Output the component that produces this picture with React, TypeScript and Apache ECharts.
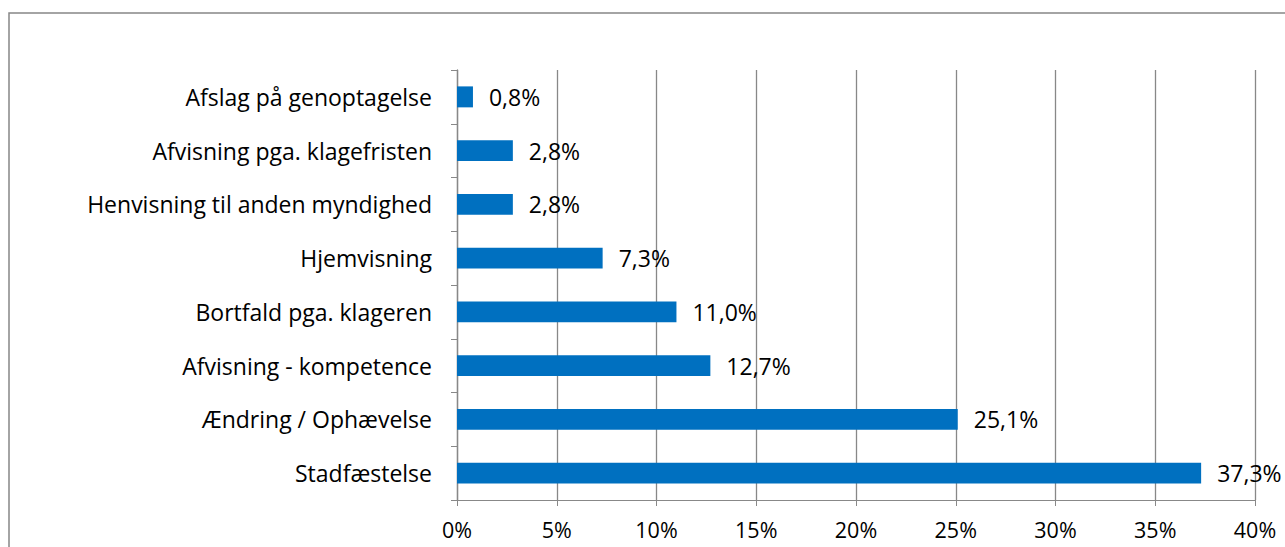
import React, { useEffect, useRef } from "react";
import * as echarts from "echarts";

const categories = [
  "Stadfæstelse",
  "Ændring / Ophævelse",
  "Afvisning - kompetence",
  "Bortfald pga. klageren",
  "Hjemvisning",
  "Henvisning til anden myndighed",
  "Afvisning pga. klagefristen",
  "Afslag på genoptagelse",
];
const values = [37.3, 25.1, 12.7, 11.0, 7.3, 2.8, 2.8, 0.8];
const xTicks = { min: 0, max: 40, interval: 5 };

const FONT = "'Open Sans', sans-serif";

export default function App() {
  const ref = useRef<HTMLDivElement>(null);
  useEffect(() => {
    if (!ref.current) return;
    const chart = echarts.init(ref.current, null, { renderer: "svg" });
    chart.setOption({
      animation: false,
      backgroundColor: "#ffffff",
      graphic: [
        {
          type: "rect",
          shape: { x: 9, y: 13, width: 1400, height: 700 },
          style: { fill: "none", stroke: "#878787", lineWidth: 1.5 },
          silent: true,
        },
      ],
      grid: { left: 457, right: 30, top: 70, bottom: 47, containLabel: false },
      xAxis: {
        type: "value",
        min: xTicks.min,
        max: xTicks.max,
        interval: xTicks.interval,
        axisLine: { show: true, lineStyle: { color: "#888888", width: 1 } },
        axisTick: { show: true, length: 6, lineStyle: { color: "#888888", width: 1 } },
        splitLine: { show: true, lineStyle: { color: "#888888", width: 1.3 } },
        axisLabel: {
          formatter: (v: number) => v + "%",
          color: "#000000",
          fontFamily: FONT,
          fontSize: 21.5,
          margin: 18,
        },
      },
      yAxis: {
        type: "category",
        data: categories,
        axisLine: { show: true, lineStyle: { color: "#888888", width: 1.3 } },
        axisTick: { show: true, length: 6, lineStyle: { color: "#888888", width: 1 } },
        axisLabel: {
          color: "#000000",
          fontFamily: FONT,
          fontSize: 23,
          margin: 25,
        },
      },
      series: [
        {
          type: "bar",
          data: values,
          barWidth: "39%",
          itemStyle: { color: "#0070C0" },
          label: {
            show: true,
            position: "right",
            distance: 16,
            color: "#000000",
            fontFamily: FONT,
            fontSize: 23,
            formatter: (p: any) => p.value.toFixed(1).replace(".", ",") + "%",
          },
        },
      ],
    });
    return () => chart.dispose();
  }, []);
  return (
    <div
      ref={ref}
      style={{ position: "absolute", left: 0, top: 0, width: 1285, height: 547 }}
    />
  );
}
